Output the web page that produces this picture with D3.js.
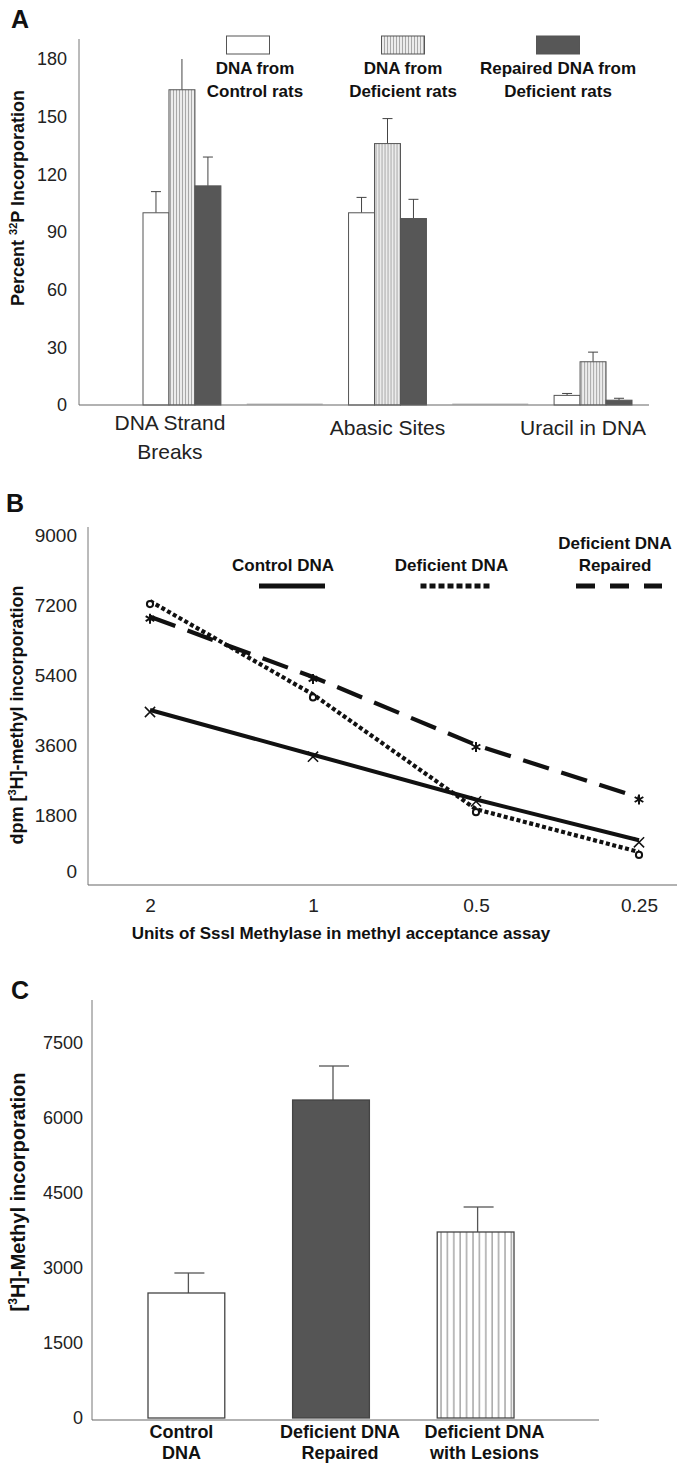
<!DOCTYPE html>
<html>
<head>
<meta charset="utf-8">
<script src="https://cdn.jsdelivr.net/npm/d3@7"></script>
<style>
  body { margin: 0; background: #fff; }
  svg { display: block; font-family: "Liberation Sans", Arial, sans-serif; }
</style>
</head>
<body>
<div id="chart"></div>
<script>
// panel A data
const aCategories = ["DNA Strand Breaks", "Abasic Sites", "Uracil in DNA"];
const aCategoryLines = [["DNA Strand", "Breaks"], ["Abasic Sites"], ["Uracil in DNA"]];
const aSeries = ["control", "deficient", "repaired"];
const aSeriesLabels = [["DNA from", "Control rats"], ["DNA from", "Deficient rats"], ["Repaired DNA from", "Deficient rats"]];
const aControl = [100, 100, 5];
const aDeficient = [164, 136, 22.5];
const aRepaired = [114, 97, 2.5];
const aControlErr = [11, 8, 1];
const aDeficientErr = [16, 13, 5];
const aRepairedErr = [15, 10, 1];
const aTicks = [0, 30, 60, 90, 120, 150, 180];

// panel B data
const bDoses = ["2", "1", "0.5", "0.25"];
const bControl = [4500, 3350, 2200, 1150];
const bDeficient = [7300, 4900, 1950, 850];
const bRepaired = [6900, 5350, 3600, 2250];
const bTicks = [0, 1800, 3600, 5400, 7200, 9000];
const bLegend = [["Control DNA"], ["Deficient DNA"], ["Deficient DNA", "Repaired"]];

// panel C data
const cCategories = ["Control DNA", "Deficient DNA Repaired", "Deficient DNA with Lesions"];
const cCategoryLines = [["Control", "DNA"], ["Deficient DNA", "Repaired"], ["Deficient DNA", "with Lesions"]];
const cValues = [2500, 6360, 3720];
const cErrors = [400, 680, 500];
const cTicks = [0, 1500, 3000, 4500, 6000, 7500];

const width = 677, height = 1469;
const svg = d3.select("#chart").append("svg")
  .attr("width", width).attr("height", height);

const defs = svg.append("defs");
// fine stripes for panel A
let pa = defs.append("pattern").attr("id", "stripeA")
  .attr("patternUnits", "userSpaceOnUse").attr("width", 3).attr("height", 10);
pa.append("rect").attr("width", 3).attr("height", 10).attr("fill", "#ececec");
pa.append("line").attr("x1", 0.5).attr("x2", 0.5).attr("y1", 0).attr("y2", 10)
  .attr("stroke", "#a8a8a8").attr("stroke-width", 1);
// wider stripes for panel C
let pc = defs.append("pattern").attr("id", "stripeC")
  .attr("patternUnits", "userSpaceOnUse").attr("width", 6.4).attr("height", 10)
  .attr("x", 440);
pc.append("rect").attr("width", 6.4).attr("height", 10).attr("fill", "#fff");
pc.append("line").attr("x1", 1).attr("x2", 1).attr("y1", 0).attr("y2", 10)
  .attr("stroke", "#999").attr("stroke-width", 1.3);

const fills = { control: "#fff", deficient: "url(#stripeA)", repaired: "#575757" };

function panelLabel(t, x, y) {
  svg.append("text").attr("x", x).attr("y", y).text(t)
    .attr("font-size", 25).attr("font-weight", "bold").attr("fill", "#111");
}

function leftAxis(scale, ticks, x, fontSize, pad) {
  let g = svg.append("g").attr("transform", "translate(" + x + ",0)")
    .call(d3.axisLeft(scale).tickValues(ticks).tickFormat(d3.format("d")).tickSize(0).tickPadding(pad));
  g.select(".domain").remove();
  g.selectAll("text").attr("font-size", fontSize).attr("fill", "#222")
    .attr("font-family", "'Liberation Sans', Arial, sans-serif");
  return g;
}

// ---------- Panel A ----------
panelLabel("A", 11, 28);

let yA = d3.scaleLinear().domain([0, 180]).range([405, 59]);
let xA = d3.scaleBand().domain(aCategories).range([143, 632]).paddingInner(0.621);
let xAin = d3.scaleBand().domain(aSeries).range([0, xA.bandwidth()]);

svg.append("line").attr("x1", 79).attr("x2", 79).attr("y1", 39).attr("y2", yA(0))
  .attr("stroke", "#777").attr("stroke-width", 1);
leftAxis(yA, aTicks, 79, 18, 12);

// faint empty segments between groups
for (let i = 0; i < aCategories.length - 1; i++) {
  let mid = (xA(aCategories[i]) + xA(aCategories[i + 1]) + xA.bandwidth()) / 2;
  svg.append("line").attr("x1", mid - 38).attr("x2", mid + 38)
    .attr("y1", yA(0) - 1).attr("y2", yA(0) - 1)
    .attr("stroke", "#ddd").attr("stroke-width", 2);
}

let aRows = aCategories.map((c, i) => ({
  cat: c,
  bars: [
    { s: "control", v: aControl[i], e: aControlErr[i] },
    { s: "deficient", v: aDeficient[i], e: aDeficientErr[i] },
    { s: "repaired", v: aRepaired[i], e: aRepairedErr[i] },
  ],
}));

let gA = svg.selectAll("g.groupA").data(aRows).enter().append("g")
  .attr("class", "groupA")
  .attr("transform", (d) => "translate(" + xA(d.cat) + ",0)");

gA.selectAll("line.err").data((d) => d.bars).enter().append("line")
  .attr("x1", (d) => xAin(d.s) + xAin.bandwidth() / 2)
  .attr("x2", (d) => xAin(d.s) + xAin.bandwidth() / 2)
  .attr("y1", (d) => yA(d.v))
  .attr("y2", (d) => yA(Math.min(d.v + d.e, 180)))
  .attr("stroke", "#444").attr("stroke-width", 1);
gA.selectAll("line.cap").data((d) => d.bars.filter((b) => b.v + b.e < 180)).enter().append("line")
  .attr("x1", (d) => xAin(d.s) + xAin.bandwidth() / 2 - 5)
  .attr("x2", (d) => xAin(d.s) + xAin.bandwidth() / 2 + 5)
  .attr("y1", (d) => yA(d.v + d.e))
  .attr("y2", (d) => yA(d.v + d.e))
  .attr("stroke", "#444").attr("stroke-width", 1);

gA.selectAll("rect").data((d) => d.bars).enter().append("rect")
  .attr("x", (d) => xAin(d.s))
  .attr("width", xAin.bandwidth())
  .attr("y", (d) => yA(d.v))
  .attr("height", (d) => yA(0) - yA(d.v))
  .attr("fill", (d) => fills[d.s])
  .attr("stroke", "#555").attr("stroke-width", 1);

svg.append("line").attr("x1", 79).attr("x2", 649).attr("y1", yA(0)).attr("y2", yA(0))
  .attr("stroke", "#666").attr("stroke-width", 1.2);

aCategories.forEach((c, i) => {
  let lines = aCategoryLines[i];
  let t = svg.append("text").attr("text-anchor", "middle").attr("font-size", 21).attr("fill", "#222")
    .attr("x", xA(c) + xA.bandwidth() / 2 - (lines.length > 1 ? 12 : (i == 2 ? 10 : 0)))
    .attr("y", lines.length > 1 ? 430 : 435);
  lines.forEach((l, j) => t.append("tspan").attr("x", t.attr("x")).attr("dy", j ? 29 : 0).text(l));
});

// legend A
let lgA = d3.scalePoint().domain(aSeries).range([248, 558]);
aSeries.forEach((s, i) => {
  svg.append("rect").attr("x", lgA(s) - 21.5).attr("y", 36).attr("width", 43).attr("height", 18)
    .attr("fill", fills[s]).attr("stroke", "#555").attr("stroke-width", 1);
  let t = svg.append("text").attr("text-anchor", "middle").attr("font-size", 17)
    .attr("font-weight", "bold").attr("fill", "#111").attr("y", 74);
  aSeriesLabels[i].forEach((l, j) =>
    t.append("tspan").attr("x", lgA(s) + (i == 0 ? 7 : 0)).attr("dy", j ? 23 : 0).text(l));
});

let tA = svg.append("text").attr("transform", "translate(24,198) rotate(-90)")
  .attr("text-anchor", "middle").attr("font-size", 18).attr("font-weight", "bold").attr("fill", "#111");
tA.append("tspan").text("Percent  ");
tA.append("tspan").attr("font-size", 11).attr("dy", -7).text("32");
tA.append("tspan").attr("dy", 7).text("P Incorporation");

// ---------- Panel B ----------
panelLabel("B", 6, 512);

let yB = d3.scaleLinear().domain([0, 9000]).range([885, 535]);
let xB = d3.scalePoint().domain(bDoses).range([150, 639]);

svg.append("line").attr("x1", 88).attr("x2", 88).attr("y1", 527).attr("y2", yB(0))
  .attr("stroke", "#777").attr("stroke-width", 1);
svg.append("line").attr("x1", 88).attr("x2", 677).attr("y1", yB(0)).attr("y2", yB(0))
  .attr("stroke", "#666").attr("stroke-width", 1.2);
leftAxis(yB, bTicks, 88, 19, 11).selectAll("text").attr("dy", (d) => d == 0 ? "-0.4em" : "0.32em");

let gxB = svg.append("g").attr("transform", "translate(0," + yB(0) + ")")
  .call(d3.axisBottom(xB).tickSize(0).tickPadding(14));
gxB.select(".domain").remove();
gxB.selectAll("text").attr("font-size", 19).attr("fill", "#222")
  .attr("font-family", "'Liberation Sans', Arial, sans-serif");

svg.append("text").attr("x", 341).attr("y", 939).attr("text-anchor", "middle")
  .attr("font-size", 17).attr("font-weight", "bold").attr("fill", "#111")
  .text("Units of SssI Methylase in methyl acceptance assay");

let tB = svg.append("text").attr("transform", "translate(23,715) rotate(-90)")
  .attr("text-anchor", "middle").attr("font-size", 18).attr("font-weight", "bold").attr("fill", "#111");
tB.append("tspan").text("dpm  [");
tB.append("tspan").attr("font-size", 11).attr("dy", -7).text("3");
tB.append("tspan").attr("dy", 7).text("H]-methyl incorporation");

let bSeries = [
  { key: "control", values: bControl, dash: null, sym: d3.symbolTimes || d3.symbolCross, rot: d3.symbolTimes ? 0 : 45 },
  { key: "deficient", values: bDeficient, dash: "4,2.6", sym: d3.symbolCircle, rot: 0 },
  { key: "repaired", values: bRepaired, dash: "27,13", sym: d3.symbolAsterisk || d3.symbolCross, rot: 0 },
];

let lineB = d3.line().x((d, i) => xB(bDoses[i])).y((d) => yB(d));

bSeries.forEach((s) => {
  svg.append("path").datum(s.values).attr("d", lineB)
    .attr("fill", "none").attr("stroke", "#111")
    .attr("stroke-width", s.key == "control" ? 4 : 4.2)
    .attr("stroke-dasharray", s.dash);
});

bSeries.forEach((s) => {
  svg.selectAll("path.m-" + s.key).data(s.values).enter().append("path")
    .attr("class", "m-" + s.key)
    .attr("transform", (d, i) => "translate(" + xB(bDoses[i]) + "," + (yB(d) + (s.key == "deficient" ? 3 : 2)) + ") rotate(" + s.rot + ")")
    .attr("d", d3.symbol().type(s.sym).size(s.key == "deficient" ? 30 : 70))
    .attr("fill", s.key == "deficient" ? "#fff" : "none")
    .attr("stroke", "#111").attr("stroke-width", s.key == "control" ? 1.5 : 2);
});

// legend B
let lgB = d3.scalePoint().domain(bSeries.map((s) => s.key)).range([292, 619]);
let lgLen = [66, 70, 86];
bSeries.forEach((s, i) => {
  svg.append("line").attr("x1", lgB(s.key) - lgLen[i] / 2).attr("x2", lgB(s.key) + lgLen[i] / 2)
    .attr("y1", 586).attr("y2", 586)
    .attr("stroke", "#111").attr("stroke-width", 5)
    .attr("stroke-dasharray", i == 1 ? "6,3" : (i == 2 ? "19,15" : null));
  let lines = bLegend[i];
  let t = svg.append("text").attr("text-anchor", "middle").attr("font-size", 17)
    .attr("font-weight", "bold").attr("fill", "#111")
    .attr("y", lines.length > 1 ? 549 : 571);
  lines.forEach((l, j) =>
    t.append("tspan").attr("x", lgB(s.key) - (i == 0 ? 9 : 4)).attr("dy", j ? 22 : 0).text(l));
});

// ---------- Panel C ----------
panelLabel("C", 11, 999);

let yC = d3.scaleLinear().domain([0, 7500]).range([1418, 1043]);
let xC = d3.scaleBand().domain(cCategories).range([148, 514]).paddingInner(0.469);
let cFills = ["#fff", "#555", "url(#stripeC)"];

svg.append("line").attr("x1", 92).attr("x2", 92).attr("y1", 1000).attr("y2", 1420)
  .attr("stroke", "#777").attr("stroke-width", 1);
leftAxis(yC, cTicks, 92, 18, 9);

let cRows = cCategories.map((c, i) => ({ cat: c, v: cValues[i], e: cErrors[i], f: cFills[i] }));

svg.selectAll("line.errC").data(cRows).enter().append("line")
  .attr("x1", (d) => xC(d.cat) + xC.bandwidth() / 2 + 2)
  .attr("x2", (d) => xC(d.cat) + xC.bandwidth() / 2 + 2)
  .attr("y1", (d) => yC(d.v)).attr("y2", (d) => yC(d.v + d.e))
  .attr("stroke", "#555").attr("stroke-width", 1.3);
svg.selectAll("line.capC").data(cRows).enter().append("line")
  .attr("x1", (d) => xC(d.cat) + xC.bandwidth() / 2 - 12)
  .attr("x2", (d) => xC(d.cat) + xC.bandwidth() / 2 + 18)
  .attr("y1", (d) => yC(d.v + d.e)).attr("y2", (d) => yC(d.v + d.e))
  .attr("stroke", "#555").attr("stroke-width", 1.3);

svg.selectAll("rect.barC").data(cRows).enter().append("rect")
  .attr("class", "barC")
  .attr("x", (d) => xC(d.cat)).attr("width", xC.bandwidth())
  .attr("y", (d) => yC(d.v)).attr("height", (d) => yC(0) - yC(d.v))
  .attr("fill", (d) => d.f).attr("stroke", "#444").attr("stroke-width", 1.3);

svg.append("line").attr("x1", 92).attr("x2", 599).attr("y1", 1420).attr("y2", 1420)
  .attr("stroke", "#666").attr("stroke-width", 1.2);

cCategories.forEach((c, i) => {
  let t = svg.append("text").attr("text-anchor", "middle").attr("font-size", 18)
    .attr("font-weight", "bold").attr("fill", "#111").attr("y", 1438);
  cCategoryLines[i].forEach((l, j) =>
    t.append("tspan").attr("x", xC(c) + xC.bandwidth() / 2 + (i == 0 ? -5 : 9)).attr("dy", j ? 21 : 0).text(l));
});

let tC = svg.append("text").attr("transform", "translate(25,1192) rotate(-90)")
  .attr("text-anchor", "middle").attr("font-size", 20).attr("font-weight", "bold").attr("fill", "#111");
tC.append("tspan").text("[");
tC.append("tspan").attr("font-size", 12).attr("dy", -8).text("3");
tC.append("tspan").attr("dy", 8).text("H]-Methyl incorporation");
</script>
</body>
</html>
